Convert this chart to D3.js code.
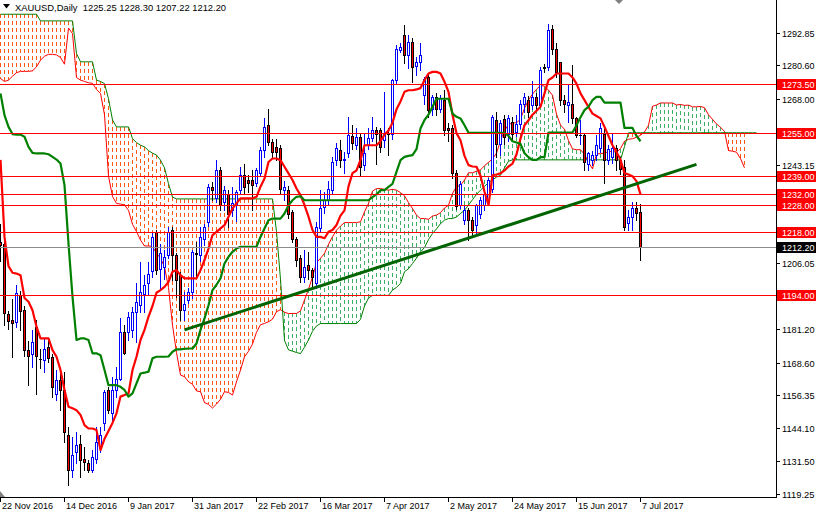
<!DOCTYPE html>
<html><head><meta charset="utf-8">
<script src="https://cdn.jsdelivr.net/npm/d3@7"></script>
<style>body{margin:0;background:#fff}svg{display:block}text{font-family:"Liberation Sans",Arial,sans-serif}</style>
</head><body><svg id="c" width="816" height="514"></svg>
<script>
const title = "XAUUSD,Daily  1225.25 1228.30 1207.22 1212.20";
const tickLabels = ["22 Nov 2016","14 Dec 2016","9 Jan 2017","31 Jan 2017","22 Feb 2017","16 Mar 2017","7 Apr 2017","2 May 2017","24 May 2017","15 Jun 2017","7 Jul 2017"];
const tickBars = [0,16,32,48,64,80,96,112,128,144,160];
const priceTicks = ["1292.85","1280.60","1268.00","1243.15","1206.05","1181.20","1168.60","1156.35","1144.10","1131.50","1119.25"];
const levels = [1273.50,1255.00,1239.00,1232.00,1228.00,1218.00,1194.00];
const lastPrice = 1212.20;
const trendBars = [46,174];
const trendPrices = [1181.0,1243.3];

const open = [1214,1213.5,1187,1184.7,1184,1194,1188.4,1173.4,1172,1182,1170.2,1169.5,1174.6,1170.9,1157,1162,1158.3,1141.4,1128.2,1135.2,1137.9,1132.6,1130.8,1128.2,1132.6,1137,1145.8,1158.3,1149.6,1158.3,1162.7,1180.3,1180.3,1181,1187.8,1190.3,1194.7,1198.5,1203,1217.9,1204,1204.8,
1209.1,1218.5,1209.1,1201.6,1188.5,1192.2,1195.3,1210,1209.1,1215.4,1221.7,1234.9,1230.5,1241.1,1229.2,1232.3,1226.1,1228,1233.6,1239.2,1237.4,1237.6,1236.1,1239.9,1248.6,1258,1251.8,1249.9,1249.3,1233.6,1233.6,1225.5,1215.4,1207.9,1201,1205.4,1203.5,1198.5,
1219.2,1227.3,1229.8,1233.6,1244.9,1248.6,1245,1247.4,1253.9,1250.5,1253.6,1243,1250.5,1253.4,1256.2,1256.2,1252.4,1254.9,1254.9,1275,1286.3,1291.9,1284.4,1289.4,1280.4,1281.9,1269.3,1276.2,1264.3,1268.7,1264.3,1267.5,1256.8,1256.8,1240,1228,1222.3,1226.1,1222.3,1220.4,
1224.8,1227.9,1229,1234,1260,1251,1260.5,1254.9,1259.3,1255.5,1258.5,1266,1267.5,1265.6,1268.7,1265.6,1280,1280,1294.4,1286.9,1281.9,1267.5,1265.6,1266.2,1260.6,1254.3,1254.3,1243.6,1244.9,1246.8,1249.3,1254.9,1245,1246.1,1249.3,1244.9,1242.4,1221.1,1223.5,1226.7,1225.25];
const high = [1221,1214,1188,1192.8,1198,1195.5,1190,1177,1181,1184.7,1174,1178,1178,1172,1165.9,1165.9,1165.2,1144.6,1140.8,1142.7,1141.4,1137,1132,1135.8,1144.6,1144.6,1158.3,1159.6,1163.4,1167.1,1185.3,1182.8,1187.8,1189.7,1198.5,1206.6,1201.6,1206.6,1217.5,1218.5,1213.5,1211,
1219.8,1219.8,1209.8,1202.9,1195.3,1196.6,1211,1214.1,1219.8,1221,1236,1236.5,1244.9,1242.4,1235,1233.6,1234.9,1233.6,1242.4,1243.6,1239.2,1241.1,1242,1250,1260.6,1264.3,1253,1253,1250.5,1237,1235,1226.1,1216,1209.1,1211,1210.4,1204.2,1221.7,
1233.6,1233,1237,1246,1251.5,1252.4,1248,1261.2,1258,1256.8,1255,1255,1256.8,1261.2,1257.4,1257,1270.6,1256.8,1275.6,1288.2,1288.8,1295.7,1291.9,1290.7,1283.8,1288.8,1276.2,1277,1269.3,1270,1269.5,1271.2,1259,1258,1241,1237,1228,1227,1223.5,1228.5,
1231,1233.5,1238,1262,1263,1260,1262,1262,1261,1262,1267.5,1270,1269,1274.6,1270,1280,1281,1296.3,1295.6,1288.8,1282,1269.5,1273.7,1280.6,1261.2,1260,1255,1248,1248.5,1254.3,1258.7,1258,1250.5,1255,1250.5,1246.1,1244.9,1226,1229.2,1229.2,1228.30];
const low = [1207,1183,1181.5,1170.9,1182,1181,1171,1160.2,1167,1157,1166.5,1165,1169,1155.8,1154.6,1150.8,1139,1122.6,1125.7,1130.8,1125.7,1128.2,1127.6,1127.6,1130.8,1135,1143.3,1149.6,1145.8,1155.8,1162.1,1172,1177.2,1178.4,1176.5,1187.8,1187.8,1194.7,1201,1202,1196,1200,
1208,1199.7,1193.5,1184.7,1184.7,1191,1193,1201,1207,1213,1220,1230,1229,1226.1,1226,1219.8,1224,1222,1232,1232.3,1233,1226.1,1235,1239,1246,1250.5,1246,1245,1232.3,1230,1223,1214,1205,1199.1,1199.1,1200,1197.2,1196.6,
1218,1225,1228,1232,1243,1242.4,1240,1246,1249,1249,1239.2,1241,1249,1252,1243.6,1248,1250,1246.8,1253,1274,1285.6,1281.3,1279.4,1274.4,1276.9,1278.7,1266,1261,1261.8,1262,1263,1254.3,1252,1238,1226.5,1227,1221,1214.8,1216,1217.3,
1223,1226,1228,1233,1246,1247,1251,1252,1252,1254,1257,1263,1261,1264,1263.5,1265,1278,1279,1285,1276,1265.5,1263,1259.3,1258.7,1253.7,1251,1241.1,1241,1243,1245,1248,1236.1,1243.5,1244,1241.1,1239.8,1218.6,1218.6,1218.6,1222.3,1207.22];
const close = [1213,1187.2,1184.4,1183.7,1195,1188,1173.4,1171.1,1176.5,1171,1170,1174,1170.3,1159.6,1162,1158.3,1142.7,1128.2,1133.9,1137.7,1132,1131.4,1128.2,1133.3,1138.9,1141.4,1157.7,1150.8,1158.3,1162.7,1180.3,1172.4,1185.9,1187.8,1191.6,1195.3,1197.9,1202.2,1216,1203.5,1209.8,1208.5,
1217.9,1209.1,1199.7,1188.5,1190.9,1195.3,1210.4,1209.5,1216,1219.8,1234.9,1233.6,1241.1,1228,1233.6,1224.8,1228.6,1233,1239.2,1234.9,1236.1,1235.5,1241.1,1248.6,1257.4,1251.8,1248,1248,1234.2,1234.9,1224.8,1215.4,1207.3,1201,1204.7,1203.5,1201,1219.8,
1226.7,1229.8,1234,1244.3,1249.3,1244.9,1245.5,1254.3,1251.4,1253.5,1242.4,1247.4,1253.1,1256.2,1254.9,1249.9,1254.9,1254.7,1275,1286.9,1287.5,1284.4,1289.4,1280,1281.9,1284.4,1275.6,1263.7,1268.7,1264.3,1268.1,1256.2,1256.2,1240,1227.5,1236,1226.1,1222.3,1218.6,1227.9,
1229.8,1232.3,1237.4,1261.2,1251,1259,1253.7,1260.6,1254.9,1258.5,1266,1268.5,1263.1,1268.7,1265.6,1278.7,1279.5,1293.8,1286.9,1278.1,1267.5,1266.2,1266.8,1260.6,1254.3,1254.5,1244.3,1247.4,1246.8,1250.5,1256.8,1244.9,1249,1249.3,1244.9,1241.7,1219.8,1223.5,1226.7,1224.9,1212.20];

const tenkan = [1245,1216,1205,1202.5,1202.2,1201.6,1193,1191.6,1188.4,1182.2,1177.8,1177.8,1177.8,1173.4,1170.9,1165.9,1158.4,1152.1,1151.5,1150.8,1149,1145.2,1143.9,1143.9,1143.3,1135.8,1140,1143,1146,1149.6,1155.9,1156.5,1157.1,1165.9,1170.9,1177.2,1181,1186,1190,1195,1196,1197.2,
1199.1,1202.9,1203.5,1201.6,1200.4,1200.4,1200.4,1200.4,1203.5,1207.3,1211.6,1216.7,1217.9,1219.2,1220.4,1223.6,1226.7,1228.6,1230.5,1230.5,1230.5,1230.5,1231.1,1234.9,1238,1244.2,1245.5,1245.5,1244.9,1242.4,1239.9,1237.4,1234.2,1231.7,1228,1223.6,1218.6,1216,
1216,1215.5,1217.9,1218.6,1220.5,1224,1226,1235,1240,1241,1245,1250.5,1250.5,1250.5,1250.5,1252,1254.5,1256,1259,1264,1267,1270.6,1271.2,1271.2,1271.5,1272,1275,1277.5,1278.1,1278.1,1277.5,1274.4,1270.6,1262,1255,1252.4,1246.5,1243,1242.5,1242.4,
1239,1233,1228,1239.2,1239.5,1239.9,1241,1242.5,1243.6,1247,1253,1258,1259.9,1262,1263.5,1265,1270,1275,1276,1277.5,1277.5,1277.5,1277.5,1276,1273.7,1270,1267.5,1264.9,1262.4,1261.5,1260.6,1257.4,1254,1250.5,1248,1245,1240,1239.5,1238.8,1237,1232];
const kijun = [1270,1261.8,1257.4,1254.7,1254.5,1254.5,1253.7,1249.9,1247.6,1247.4,1247.4,1247.4,1247.1,1246.1,1245.1,1243.6,1235.5,1213.5,1193.5,1177.2,1177.8,1177.8,1177.2,1172.2,1172.2,1171.5,1165.9,1160.2,1160.2,1160.2,1159.6,1158.4,1155.9,1157.1,1160.9,1164.6,1164.9,1165.3,1170.3,1170.9,1170.9,1170.9,
1171,1172.8,1173.7,1173.7,1173.9,1174,1174,1175.9,1181,1185.3,1190.3,1196,1198,1200.4,1206,1208.5,1210.4,1211.6,1212.3,1212.3,1212.3,1212.3,1212.3,1216,1219.2,1222.3,1222.9,1222.9,1222.9,1224.8,1227.9,1229.8,1231.1,1231.3,1229.8,1229.8,1229.8,1229.8,
1229.8,1229.8,1229.8,1229.8,1229.8,1229.8,1229.8,1229.8,1229.8,1229.8,1229.8,1229.8,1229.8,1231,1232,1233.6,1233.6,1234.8,1236,1240.5,1244.9,1246.1,1246.5,1246.8,1249,1256.8,1260,1262,1265,1268,1268,1268,1268,1262.4,1261.2,1260.6,1258,1255.2,1255.2,1255.2,
1255.2,1255.2,1255.2,1255.2,1255.2,1255.2,1255.2,1254,1252,1251.5,1251,1247.5,1246,1245,1245,1246,1246,1255.3,1255.3,1255.3,1255.3,1255.3,1255.3,1255.3,1258,1261,1263.7,1265,1267.5,1268.7,1268.7,1266.5,1266.5,1266.5,1266.5,1266.5,1257,1257,1257,1254,1252];
const spanA = [1275.6,1274.5,1275,1276.5,1277.8,1278.3,1278.3,1278.3,1278.5,1280,1282.5,1284,1284.7,1284.7,1284.5,1283.5,1281,1294.6,1292.5,1276,1275,1274.5,1274,1273.8,1271.5,1270,1262,1238.9,1231.2,1228.6,1228.35,1228.05,1226,1220.75,1218,1214.8,1212.6,1212.6,1212.45,1209.75,1208,1204.75,
1196.95,1182.8,1172.5,1164,1163.4,1161.5,1160.55,1158.05,1157.75,1153.65,1152.95,1151.6,1153.1,1154.9,1157.75,1157.45,1156.5,1161.5,1165.9,1170.9,1172.95,1175.65,1180.15,1182.95,1183.45,1184.05,1185.05,1187.85,1188.6,1187.65,1187.15,1187.2,1187.2,1188.15,1192.25,1196.3,1200.95,1206.35,
1207.95,1209.8,1213.2,1216.05,1218.55,1220.1,1221.4,1221.4,1221.4,1221.4,1221.7,1225.45,1228.6,1233.25,1234.2,1234.2,1233.9,1233.6,1233.9,1233.6,1232.65,1231.5,1228.9,1226.7,1224.2,1222.9,1222.9,1222.65,1223.85,1224.2,1225.15,1226.9,1227.9,1232.4,1234.9,1235.4,1237.4,1240.15,1240.15,1240.75,
1241.25,1242.8,1244.05,1245.4,1247.5,1252.25,1255.95,1258.35,1258.85,1259,1260.25,1264.4,1267.5,1269.75,1271.55,1273.05,1272.75,1271.2,1269.3,1262.2,1258.1,1256.5,1252.25,1249.1,1248.85,1248.8,1247.1,1244.1,1241.6,1247.2,1247.35,1247.55,1248.1,1248.25,1247.8,1249.25,1252,1252.75,1252.95,1253.5,
1254.25,1255.5,1258,1265.15,1265.65,1266.4,1266.4,1266.4,1266.4,1265.65,1265.85,1265.5,1265.6,1264.95,1264.95,1265.1,1264.65,1261.95,1260.25,1258.5,1257.25,1255.75,1248.5,1248.25,1247.9,1245.5,1242];
const spanB = [1299.8,1299.8,1299.8,1299.8,1299.8,1299.8,1299.8,1299.8,1299.8,1299.8,1297.3,1297.3,1297.3,1297.3,1297.3,1297.3,1297.3,1297.3,1297.3,1285,1281.9,1281.9,1281.9,1281.9,1275,1274.5,1273.7,1268,1260,1257.4,1257.4,1257.4,1257.4,1253,1251.5,1250.5,1249.9,1248.5,1247.5,1246.8,1244.9,1242,
1236,1231,1230.3,1230.3,1230.3,1230.3,1230.3,1230.3,1230.3,1230.3,1230.3,1230.3,1230.3,1230.3,1230.3,1230.3,1230.3,1230.3,1230.3,1230.3,1230.3,1230.3,1230.3,1230.3,1230.3,1230.3,1230.3,1218,1200,1177,1173.5,1173,1172.5,1172.1,1174.5,1177.2,1180.5,1182.5,
1183.4,1183.4,1183.4,1183.4,1183.4,1183.4,1183.4,1183.4,1183.4,1183.4,1185,1190,1193,1194,1194,1194,1194,1194,1196,1197,1198.5,1202.9,1204,1206,1208,1210.4,1212,1215,1217.3,1219,1221,1222.3,1222.9,1222.9,1223.5,1224.8,1226,1228,1230,1232,
1233.6,1235,1236.5,1237.5,1238.5,1239.2,1242,1244.5,1245,1245,1245,1245,1245,1245,1245,1245,1245,1245,1245,1245,1245,1245,1245,1245,1245,1245,1245,1245,1245,1245,1245,1245,1245,1245,1245,1245,1250,1255.2,1255.2,1255.2,
1255.2,1255.2,1255.2,1255.2,1255.2,1255.2,1255.2,1255.2,1255.2,1255.2,1255.2,1255.2,1255.2,1255.2,1255.2,1255.2,1255.2,1255.2,1255.2,1255.2,1255.2,1255.2,1255.2,1255.2,1255.2,1255.2,1255.2,1255.2,1255.2,1255.2];

const W = 816, H = 514, plotR = 776, axisY = 497;
const svg = d3.select("#c");
const x = d3.scaleLinear().domain([0, 1]).range([0.5, 4.5]);
const y = d3.scaleLinear().domain([1119.25, 1292.85]).range([494, 32.7]);
const py = v => Math.round(y(v)) + 0.5;

svg.append("defs").append("clipPath").attr("id", "plot")
  .append("rect").attr("x", 0).attr("y", 0).attr("width", plotR).attr("height", axisY);
const g = svg.append("g").attr("clip-path", "url(#plot)");

// cloud hatch (per-bar dotted histogram between span A and span B)
const cloudIdx = d3.range(spanA.length);
g.append("g").selectAll("line").data(cloudIdx).join("line")
  .attr("x1", i => x(i)).attr("x2", i => x(i))
  .attr("y1", i => y(Math.max(spanA[i], spanB[i])))
  .attr("y2", i => y(Math.min(spanA[i], spanB[i])))
  .attr("stroke", i => spanA[i] >= spanB[i] ? "#3CB064" : "#FF5A14")
  .attr("stroke-width", 1).attr("stroke-dasharray", "4,3")
  .attr("shape-rendering", "crispEdges");

const line = d3.line().x((d, i) => x(i)).y(d => y(d));
g.append("path").datum(spanA).attr("d", line).attr("fill", "none").attr("stroke", "#FF0000").attr("stroke-width", 1);
g.append("path").datum(spanB).attr("d", line).attr("fill", "none").attr("stroke", "#008000").attr("stroke-width", 1);

// candles
const bars = d3.range(close.length);
const cg = g.append("g").attr("shape-rendering", "crispEdges");
bars.forEach(i => {
  const bull = close[i] > open[i];
  const cx = Math.round(x(i) - 0.5);
  const wickCol = bull ? "#0000FF" : "#000000";
  cg.append("line").attr("x1", cx + 0.5).attr("x2", cx + 0.5)
    .attr("y1", Math.round(y(high[i]))).attr("y2", Math.round(y(low[i])) + 1)
    .attr("stroke", wickCol).attr("stroke-width", 1);
  const yt = Math.round(y(Math.max(open[i], close[i])));
  const yb = Math.round(y(Math.min(open[i], close[i])));
  if (yb - yt < 1) {
    cg.append("line").attr("x1", cx - 1).attr("x2", cx + 2).attr("y1", yt + 0.5).attr("y2", yt + 0.5)
      .attr("stroke", "#000").attr("stroke-width", 1);
  } else {
    cg.append("rect").attr("x", cx - 0.5).attr("y", yt + 0.5).attr("width", 2).attr("height", yb - yt)
      .attr("fill", bull ? "#FFFFFF" : "#FF0000").attr("stroke", bull ? "#0000FF" : "#000000").attr("stroke-width", 1);
  }
});

// tenkan / kijun
g.append("path").datum(tenkan).attr("d", line).attr("fill", "none").attr("stroke", "#FF0000").attr("stroke-width", 2.2).attr("stroke-linejoin", "round");
g.append("path").datum(kijun).attr("d", line).attr("fill", "none").attr("stroke", "#008000").attr("stroke-width", 2.2).attr("stroke-linejoin", "round");

// horizontal levels
g.append("g").selectAll("line").data(levels).join("line")
  .attr("x1", 0).attr("x2", plotR).attr("y1", d => py(d)).attr("y2", d => py(d))
  .attr("stroke", "#FF0000").attr("stroke-width", 1).attr("shape-rendering", "crispEdges");
g.append("line").attr("x1", 0).attr("x2", plotR).attr("y1", py(lastPrice)).attr("y2", py(lastPrice))
  .attr("stroke", "#8C8C8C").attr("stroke-width", 1).attr("shape-rendering", "crispEdges");

// trendline
g.append("line").attr("x1", x(trendBars[0])).attr("y1", y(trendPrices[0]))
  .attr("x2", x(trendBars[1])).attr("y2", y(trendPrices[1]))
  .attr("stroke", "#006400").attr("stroke-width", 3);

// axes
svg.append("line").attr("x1", plotR + 0.5).attr("x2", plotR + 0.5).attr("y1", 0).attr("y2", axisY + 1)
  .attr("stroke", "#000").attr("shape-rendering", "crispEdges");
svg.append("line").attr("x1", 0).attr("x2", plotR + 1).attr("y1", axisY + 0.5).attr("y2", axisY + 0.5)
  .attr("stroke", "#000").attr("shape-rendering", "crispEdges");

const fs = 9;
const labW = 32.5;
priceTicks.forEach(t => {
  const v = +t, yy = Math.round(y(v)) + 0.5;
  svg.append("line").attr("x1", plotR).attr("x2", plotR + 4).attr("y1", yy).attr("y2", yy).attr("stroke", "#000").attr("shape-rendering", "crispEdges");
  svg.append("text").attr("x", 782).attr("y", yy + 3.5).attr("font-size", 9.6)
    .attr("textLength", labW).attr("lengthAdjust", "spacingAndGlyphs").attr("fill", "#000").text(t);
});
levels.forEach(v => {
  const yy = Math.round(y(v));
  svg.append("rect").attr("x", 777).attr("y", yy - 5).attr("width", 39).attr("height", 11).attr("fill", "#FF0000");
  svg.append("text").attr("x", 782).attr("y", yy + 4).attr("font-size", 9.6)
    .attr("textLength", labW).attr("lengthAdjust", "spacingAndGlyphs").attr("fill", "#FFF").text(v.toFixed(2));
});
{
  const yy = Math.round(y(lastPrice));
  svg.append("rect").attr("x", 777).attr("y", yy - 5).attr("width", 39).attr("height", 11).attr("fill", "#000");
  svg.append("text").attr("x", 782).attr("y", yy + 4).attr("font-size", 9.6)
    .attr("textLength", labW).attr("lengthAdjust", "spacingAndGlyphs").attr("fill", "#FFF").text(lastPrice.toFixed(2));
}

tickBars.forEach((b, k) => {
  const xx = Math.round(x(b) - 0.5) + 0.5;
  svg.append("line").attr("x1", xx).attr("x2", xx).attr("y1", axisY).attr("y2", axisY + 5).attr("stroke", "#000").attr("shape-rendering", "crispEdges");
  svg.append("text").attr("x", xx + 1.5).attr("y", 509).attr("font-size", fs).attr("fill", "#000").text(tickLabels[k]);
});

// title
svg.append("path").attr("d", "M3,4 L10,4 L6.5,8.5 Z").attr("fill", "#000");
svg.append("text").attr("x", 15).attr("y", 11).attr("font-size", 9.4).attr("fill", "#000").attr("xml:space", "preserve").text(title);
// markers
svg.append("path").attr("d", "M615,0 L623,0 L619,4 Z").attr("fill", "#808080");
svg.append("path").attr("d", "M0,491 L5,497 L0,497 Z").attr("fill", "#808080");
</script></body></html>
